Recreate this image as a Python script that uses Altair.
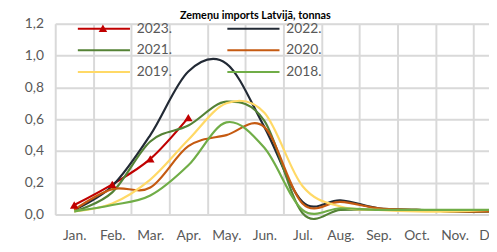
import altair as alt
import pandas as pd

months = ["Jan.", "Feb.", "Mar.", "Apr.", "May.", "Jun.", "Jul.", "Aug.", "Sep.", "Oct.", "Nov.", "Dec."]
years = ["2023.", "2022.", "2021.", "2020.", "2019.", "2018."]
colors = ["#c00000", "#222a35", "#548235", "#c55a11", "#ffd966", "#70ad47"]

v2023 = [0.06, 0.19, 0.35, 0.61]
v2022 = [0.03, 0.18, 0.50, 0.90, 0.95, 0.55, 0.08, 0.09, 0.04, 0.03, 0.02, 0.02]
v2021 = [0.02, 0.14, 0.46, 0.56, 0.71, 0.59, 0.01, 0.03, 0.03, 0.03, 0.02, 0.02]
v2020 = [0.03, 0.16, 0.17, 0.43, 0.50, 0.55, 0.07, 0.08, 0.04, 0.03, 0.02, 0.02]
v2019 = [0.02, 0.07, 0.22, 0.47, 0.70, 0.64, 0.18, 0.05, 0.03, 0.02, 0.02, 0.03]
v2018 = [0.02, 0.06, 0.12, 0.31, 0.58, 0.42, 0.03, 0.04, 0.03, 0.03, 0.03, 0.03]

series = [v2023, v2022, v2021, v2020, v2019, v2018]
rows = []
for yr, vals in zip(years, series):
    for m, v in zip(months, vals):
        rows.append({"year": yr, "month": m, "value": v})
df = pd.DataFrame(rows)

FONT = "Lato"
GRAY = "#595959"
GRID = "#d9d9d9"

x_enc = alt.X(
    "month:N", sort=months, bandPosition=0.5,
    scale=alt.Scale(type="band", domain=months, range=[0, 464], paddingInner=0, paddingOuter=0),
    axis=alt.Axis(title=None, labelAngle=0, tickBand="extent", ticks=False, domain=False,
                  grid=True, gridColor=GRID, gridWidth=2, labelPadding=14,
                  labelFont=FONT, labelFontSize=14, labelColor=GRAY),
)
y_enc = alt.Y(
    "value:Q",
    scale=alt.Scale(domain=[0, 1.2], nice=False),
    axis=alt.Axis(title=None, values=[0, 0.2, 0.4, 0.6, 0.8, 1.0, 1.2], ticks=False, domain=False,
                  grid=True, gridColor=GRID, gridWidth=2, labelPadding=12,
                  labelExpr="replace(format(datum.value, '.1f'), '.', ',')",
                  labelFont=FONT, labelFontSize=14, labelColor=GRAY),
)

leg = alt.Legend(title=None, orient="none", legendX=22, legendY=-2, columns=2,
                 direction="horizontal", clipHeight=14,
                 symbolType="stroke", symbolSize=2809, symbolStrokeWidth=2,
                 rowPadding=8, columnPadding=55, labelOffset=6,
                 labelFont=FONT, labelFontSize=14, labelColor=GRAY)

lines = alt.Chart(df).mark_line(interpolate="cardinal", strokeWidth=2.2).encode(
    x=x_enc, y=y_enc,
    color=alt.Color("year:N", scale=alt.Scale(domain=years, range=colors), legend=leg),
    detail="year:N",
)

tri_leg = alt.Legend(title=None, orient="none", legendX=43, legendY=-1, symbolSize=75,
                     symbolStrokeWidth=1, labelExpr="''", labelFontSize=11)

markers = alt.Chart(df).transform_filter(alt.datum.year == "2023.").mark_point(
    filled=True, size=75, opacity=1, color="#c00000"
).encode(
    x=x_enc, y=y_enc,
    shape=alt.Shape("year:N", scale=alt.Scale(domain=["2023."], range=["triangle-up"]), legend=tri_leg),
)

chart = alt.layer(lines, markers).properties(
    width=441, height=194,
    title=alt.Title("Zemeņu imports Latvijā, tonnas", font=FONT, fontSize=11, fontWeight="bold",
                    color="#000000", offset=3, dx=-17, dy=7),
    autosize=alt.AutoSizeParams(type="none"),
    padding={"left": 48, "top": 14, "right": 0, "bottom": 36},
).configure_view(stroke=None).configure(background="white")

chart.save("out.html", embed_options={"renderer": "svg", "actions": False})
